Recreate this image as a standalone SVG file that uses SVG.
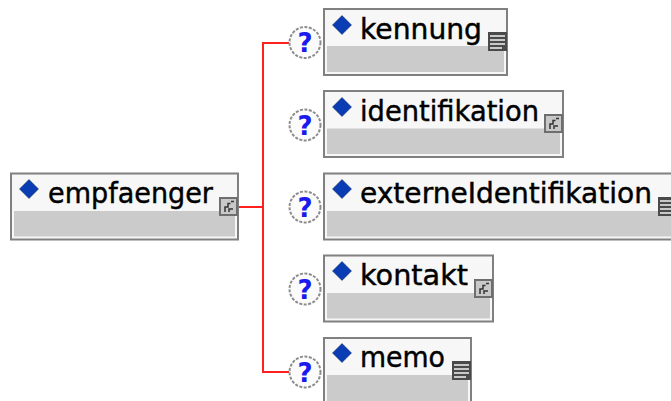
<svg xmlns="http://www.w3.org/2000/svg" width="671" height="401" viewBox="0 0 671 401">
<style>
.box{fill:#f7f7f7;stroke:#808080;stroke-width:2}
.band{fill:#cbcbcb}
.label{font-family:"DejaVu Sans",sans-serif;font-size:28.500px;fill:#000;stroke:#000;stroke-width:.45}
.wire{fill:none;stroke:#ff2020;stroke-width:2}
.q{fill:#fbfbfb;stroke:#8c8c8c;stroke-width:2;stroke-dasharray:3 1.500}
.qt{font-family:"DejaVu Sans",sans-serif;font-size:26px;font-weight:bold;fill:#1a1aee;text-anchor:middle}
.d{fill:#0a3cb4;stroke:#10284a;stroke-width:.5}
.ci{fill:#c8c8c8;stroke:#6e6e6e;stroke-width:2}
.cg{fill:none;stroke:#333;stroke-width:1.500}
.ti{fill:#4a4a4a;stroke:#4a4a4a;stroke-width:1}
.tl{stroke:#c8c8c8;stroke-width:2}
</style>
<defs>
<path id="dia" class="d" d="M0-9.500 9.500 0 0 9.500-9.500 0Z"/>
<g id="cplx"><rect class="ci" x="1" y="1" width="17" height="17"/><path class="cg" d="M6 15V10H9V6.500H11.500M10 15V12H14M12 4.500H15"/></g>
<g id="simple"><rect class="ti" x="0.500" y="0.500" width="18" height="18"/><path class="tl" d="M2 4H17M2 8H17M2 12H17M2 16H14"/></g>
<g id="qm"><circle class="q" cx="0" cy="0" r="15.500"/><text class="qt" x="0" y="9.500">?</text></g>
</defs>
<g id="connectors">
<path class="wire" d="M238 207H263M289 43H263V372H289"/>
</g>
<g id="empfaenger">
<rect class="box" x="11" y="173.500" width="227" height="66"/>
<rect class="band" x="14" y="211" width="221" height="25.500"/>
<use href="#dia" x="29" y="189"/>
<text class="label" x="48" y="203" textLength="165" lengthAdjust="spacingAndGlyphs">empfaenger</text>
<use href="#cplx" x="219" y="197"/>
</g>
<g id="kennung">
<rect class="box" x="324" y="9" width="183" height="66"/>
<rect class="band" x="327" y="46" width="177" height="26"/>
<use href="#dia" x="342" y="25"/>
<text class="label" x="360" y="39" textLength="122" lengthAdjust="spacingAndGlyphs">kennung</text>
<use href="#qm" x="305" y="42.500"/>
<use href="#simple" x="488" y="32"/>
</g>
<g id="identifikation">
<rect class="box" x="324" y="91" width="239" height="66"/>
<rect class="band" x="327" y="128.500" width="233" height="25.500"/>
<use href="#dia" x="342" y="107"/>
<text class="label" x="360" y="121" textLength="179" lengthAdjust="spacingAndGlyphs">identifikation</text>
<use href="#qm" x="305" y="125"/>
<use href="#cplx" x="544" y="114"/>
</g>
<g id="externeIdentifikation">
<rect class="box" x="324" y="173.500" width="350" height="66"/>
<rect class="band" x="327" y="211" width="347" height="25.500"/>
<use href="#dia" x="342" y="189"/>
<text class="label" x="360" y="203" textLength="292" lengthAdjust="spacingAndGlyphs">externeIdentifikation</text>
<use href="#qm" x="305" y="207"/>
<use href="#simple" x="658" y="197"/>
</g>
<g id="kontakt">
<rect class="box" x="324" y="255.500" width="169" height="66"/>
<rect class="band" x="327" y="293" width="163" height="25.500"/>
<use href="#dia" x="342" y="271"/>
<text class="label" x="360" y="285" textLength="108" lengthAdjust="spacingAndGlyphs">kontakt</text>
<use href="#qm" x="305" y="289"/>
<use href="#cplx" x="474" y="279"/>
</g>
<g id="memo">
<rect class="box" x="324" y="338" width="147" height="66"/>
<rect class="band" x="327" y="375" width="141" height="26"/>
<use href="#dia" x="342" y="353"/>
<text class="label" x="360" y="367" textLength="85" lengthAdjust="spacingAndGlyphs">memo</text>
<use href="#qm" x="305" y="372"/>
<use href="#simple" x="452" y="361"/>
</g>
</svg>
